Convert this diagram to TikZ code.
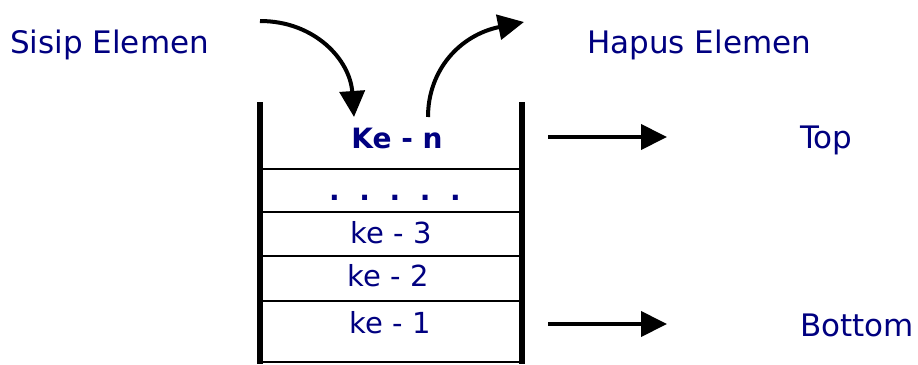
\documentclass[tikz,border=0pt]{standalone}
\usepackage{fontspec}
\setmainfont{DejaVu Sans}
\usetikzlibrary{arrows.meta}
\definecolor{navytext}{RGB}{0,0,128}
\tikzset{
  lbl/.style={text=navytext, font=\fontsize{31}{36}\selectfont, inner sep=0pt, anchor=base},
  cell/.style={text=navytext, font=\fontsize{29}{34}\selectfont, inner sep=0pt, anchor=base},
  wall/.style={line width=5.5pt},
  sep/.style={line width=1.8pt},
  bigarrow/.style={line width=4pt, -{Triangle[length=26pt,width=25pt]}},
}
\begin{document}
\begin{tikzpicture}[x=1pt,y=-1pt]
\useasboundingbox (0,0) rectangle (918,364);
% container walls
\coordinate (wlt) at (260,102); \coordinate (wlb) at (260,364);
\coordinate (wrt) at (522,102); \coordinate (wrb) at (522,364);
\draw[wall] (wlt) -- (wlb);
\draw[wall] (wrt) -- (wrb);
% separators
\foreach \y/\n in {169/a,212/b,256/c,301/d,362/e}{
  \coordinate (s\n l) at (260,\y); \coordinate (s\n r) at (522,\y);
  \draw[sep] (s\n l) -- (s\n r);
}
% cells
\node[cell, font=\fontsize{28}{34}\selectfont\bfseries] (kn) at (397,148) {Ke - n};
\node[cell, font=\fontsize{28}{34}\selectfont\bfseries] (dots) at (395,200) {.\hspace{0.7em}.\hspace{0.7em}.\hspace{0.7em}.\hspace{0.7em}.};
\node[cell] (k3) at (391,243) {ke - 3};
\node[cell] (k2) at (388,286) {ke - 2};
\node[cell] (k1) at (390,333) {ke - 1};
% labels
\node[lbl, anchor=base west] (sisip) at (10,53) {Sisip Elemen};
\node[lbl, anchor=base west] (hapus) at (587,53) {Hapus Elemen};
\node[lbl, anchor=base west] (top) at (800,148) {Top};
\node[lbl, anchor=base west] (bottom) at (800,336) {Bottom};
% pointer arrows
\coordinate (ta) at (548,137); \coordinate (tb) at (667,137);
\coordinate (ba) at (548,324); \coordinate (bb) at (667,324);
\draw[bigarrow] (ta) -- (tb);
\draw[bigarrow] (ba) -- (bb);
% push / pop arrows
\coordinate (ins) at (260,21); \coordinate (inE) at (354,117);
\draw[bigarrow] (ins) .. controls (315,21) and (350,60) .. (inE);
\coordinate (outS) at (428,117); \coordinate (outE) at (524,22);
\draw[bigarrow] (outS) .. controls (428,70) and (460,35) .. (outE);
\end{tikzpicture}
\end{document}
